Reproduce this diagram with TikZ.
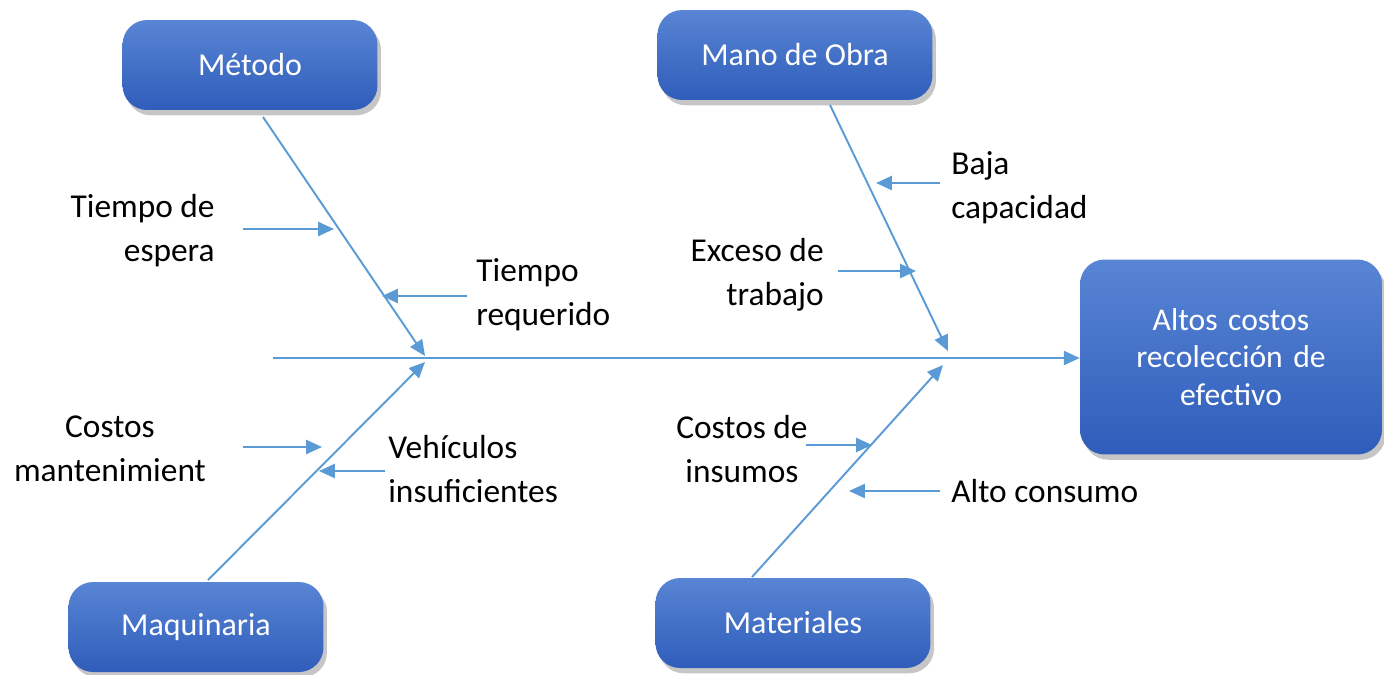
\documentclass[tikz,border=0pt]{standalone}
\usepackage{fontspec}
\setmainfont{Carlito}
\usetikzlibrary{shadows, positioning, arrows.meta}

\definecolor{bonecol}{RGB}{91,155,213}
\definecolor{boxtop}{RGB}{88,133,212}
\definecolor{boxbot}{RGB}{47,93,186}

\tikzset{
  catbox/.style = {rounded corners=14, top color=boxtop, bottom color=boxbot,
    draw=none, text=white, drop shadow={opacity=0.45, shadow xshift=2pt, shadow yshift=-3pt},
    font=\fontsize{18.2}{22}\selectfont, align=center},
  cause/.style = {font=\fontsize{19}{25}\selectfont, inner sep=0pt},
  bone/.style = {draw=bonecol, line width=1.1pt, -{Triangle[length=9pt, width=8pt]}},
  twig/.style = {draw=bonecol, line width=1.1pt, -{Triangle[length=9pt, width=8pt]}}
}

\begin{document}
\begin{tikzpicture}[x=0.02cm, y=-0.02cm]
    \useasboundingbox (0,0) rectangle (1384,674);

    % categories
    \node[catbox, minimum width=5.1cm, minimum height=1.8cm] (metodo) at (250,65) {Método};
    \node[catbox, minimum width=5.5cm, minimum height=1.8cm] (obra) at (795,55) {Mano de Obra};
    \node[catbox, minimum width=5.1cm, minimum height=1.8cm] (maquinaria) at (196,627) {Maquinaria};
    \node[catbox, minimum width=5.5cm, minimum height=1.8cm] (materiales) at (793,623) {Materiales};
    \node[catbox, minimum width=6.04cm, minimum height=3.9cm, text width=4.2cm,
      font=\fontsize{18}{21.5}\selectfont] (efecto) at (1231,357)
      {Altos costos\\recolección de\\efectivo};

    % spine
    \coordinate (tail) at (273,358);
    \coordinate (joinL) at (425,356);
    \coordinate (joinLb) at (425,362);
    \coordinate (joinR) at (948,351);
    \coordinate (joinRb) at (943,365);
    \draw[bone] (tail) -- (efecto.west |- tail);

    % bones
    \coordinate (metodo-s) at (263,117);
    \coordinate (obra-s) at (830,105);
    \coordinate (maquinaria-n) at (208,580);
    \coordinate (materiales-n) at (752,577);
    \draw[bone] (metodo-s) -- (joinL);
    \draw[bone] (maquinaria-n) -- (joinLb);
    \draw[bone] (obra-s) -- (joinR);
    \draw[bone] (materiales-n) -- (joinRb);

    % causes
    \node[cause, align=right, anchor=east] (espera) at (215,231) {Tiempo de\\espera};
    \node[cause, align=left, anchor=west] (requerido) at (476,295) {Tiempo\\requerido};
    \node[cause, align=center] (mant) at (110,449) {Costos\\mantenimient};
    \node[cause, align=left, anchor=west] (vehiculos) at (388,469) {Vehículos\\insuficientes};
    \node[cause, align=left, anchor=west] (baja) at (951,188) {Baja\\capacidad};
    \node[cause, align=right, anchor=east] (exceso) at (824,275) {Exceso de\\trabajo};
    \node[cause, align=center] (insumos) at (742,449) {Costos de\\insumos};
    \node[cause, anchor=west] (alto) at (951,491) {Alto consumo};

    % twigs
    \coordinate (espera-a) at (243,229);   \coordinate (espera-b) at (334,229);
    \coordinate (requerido-a) at (467,296); \coordinate (requerido-b) at (382,296);
    \coordinate (mant-a) at (243,447);     \coordinate (mant-b) at (322,447);
    \coordinate (vehiculos-a) at (385,471); \coordinate (vehiculos-b) at (319,471);
    \coordinate (baja-a) at (940,183);     \coordinate (baja-b) at (876,183);
    \coordinate (exceso-a) at (838,271);   \coordinate (exceso-b) at (916,271);
    \coordinate (insumos-a) at (806,445);  \coordinate (insumos-b) at (872,445);
    \coordinate (alto-a) at (940,491);     \coordinate (alto-b) at (849,491);
    \foreach \c in {espera, requerido, mant, vehiculos, baja, exceso, insumos, alto}
      \draw[twig] (\c-a) -- (\c-b);
\end{tikzpicture}
\end{document}
